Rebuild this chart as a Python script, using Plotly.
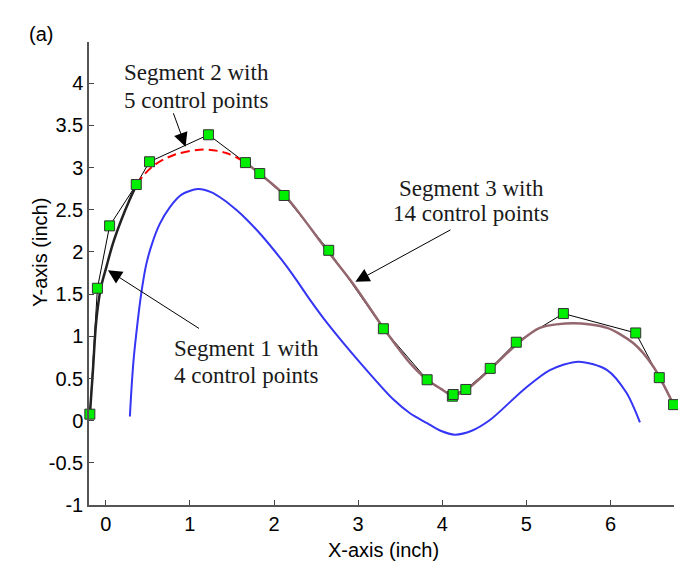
import plotly.graph_objects as go

# Control points (all segments, in order)
ctrl_x = [-0.19, -0.10, 0.045, 0.362, 0.52, 1.22, 1.66, 1.83, 2.12, 2.65, 3.30, 3.82, 4.12, 4.13, 4.28, 4.57, 4.88, 5.44, 6.30, 6.58, 6.75]
ctrl_y = [0.077, 1.57, 2.31, 2.80, 3.07, 3.39, 3.06, 2.93, 2.67, 2.02, 1.09, 0.485, 0.29, 0.31, 0.37, 0.62, 0.93, 1.27, 1.04, 0.51, 0.19]

# Segment 1 curve (black)
seg1_x = [-0.19, -0.153, -0.113, -0.06, 0.006, 0.084, 0.184, 0.283, 0.362]
seg1_y = [0.065, 0.60, 1.19, 1.57, 1.82, 2.10, 2.38, 2.62, 2.79]

# Segment 2 curve (red dashed)
seg2_x = [0.362, 0.55, 0.81, 1.165, 1.44, 1.66]
seg2_y = [2.80, 3.01, 3.15, 3.215, 3.17, 3.06]

# Segment 3 curve (mauve)
seg3_x = [1.66, 1.84, 2.13, 2.63, 2.95, 3.30, 3.62, 3.82, 3.98, 4.13, 4.29, 4.57, 4.89, 5.16, 5.56, 5.96, 6.27, 6.51, 6.75]
seg3_y = [3.06, 2.92, 2.67, 2.02, 1.61, 1.10, 0.68, 0.485, 0.38, 0.296, 0.37, 0.61, 0.91, 1.10, 1.156, 1.10, 0.92, 0.64, 0.19]

# Offset curve (blue)
blue_x = [0.286, 0.30, 0.33, 0.37, 0.42, 0.48, 0.55, 0.64, 0.76, 0.90, 1.094, 1.25, 1.40, 1.55, 1.68, 1.84, 2.08, 2.23, 2.43, 2.63, 3.03, 3.42, 3.62, 3.82, 3.98, 4.15, 4.35, 4.57, 4.97, 5.28, 5.62, 5.96, 6.19, 6.35]
blue_y = [0.05, 0.30, 0.72, 1.10, 1.50, 1.85, 2.10, 2.33, 2.53, 2.68, 2.746, 2.71, 2.62, 2.50, 2.38, 2.21, 1.92, 1.72, 1.43, 1.16, 0.68, 0.25, 0.085, -0.03, -0.12, -0.166, -0.12, 0.01, 0.37, 0.60, 0.70, 0.60, 0.33, -0.02]

x_ticks = [0, 1, 2, 3, 4, 5, 6]
y_ticks = [-1, -0.5, 0, 0.5, 1, 1.5, 2, 2.5, 3, 3.5, 4]

fig = go.Figure()
fig.add_trace(go.Scatter(x=blue_x, y=blue_y, mode="lines", line=dict(color="#3535f5", width=2, shape="spline", smoothing=0.8), hoverinfo="skip"))
fig.add_trace(go.Scatter(x=ctrl_x, y=ctrl_y, mode="lines", line=dict(color="black", width=1), hoverinfo="skip", cliponaxis=False))
fig.add_trace(go.Scatter(x=seg3_x, y=seg3_y, mode="lines", line=dict(color="#94676f", width=2.5, shape="spline", smoothing=0.8), hoverinfo="skip"))
fig.add_trace(go.Scatter(x=seg2_x, y=seg2_y, mode="lines", line=dict(color="#ff0000", width=2, dash="9px,5px", shape="spline"), hoverinfo="skip"))
fig.add_trace(go.Scatter(x=seg1_x, y=seg1_y, mode="lines", line=dict(color="#222222", width=2.5, shape="spline"), hoverinfo="skip"))
fig.add_trace(go.Scatter(x=ctrl_x, y=ctrl_y, mode="markers", cliponaxis=False,
                         marker=dict(symbol="square", size=10, color="#00ee00", line=dict(color="#333333", width=1)),
                         hoverinfo="skip"))

serif = dict(family="Liberation Serif", size=23, color="#1a1a1a")
# (text, x, y, xanchor)
texts = [
    ("Segment 2 with", 0.196, 4.126, "left"),
    ("5 control points", 0.196, 3.802, "left"),
    ("Segment 3 with", 4.344, 2.754, "center"),
    ("14 control points", 4.344, 2.458, "center"),
    ("Segment 1 with", 0.781, 0.856, "left"),
    ("4 control points", 0.781, 0.540, "left"),
]
annotations = []
for t, x, y, xa in texts:
    annotations.append(dict(text=t, x=x, y=y, xref="x", yref="y", xanchor=xa, yanchor="middle",
                            showarrow=False, font=serif))

arrows = [
    (0.948, 3.248, 0.797, 3.663),
    (2.967, 1.646, 4.115, 2.272),
    (0.025, 1.785, 1.126, 1.082),
]
for x, y, ax, ay in arrows:
    annotations.append(dict(text="", x=x, y=y, ax=ax, ay=ay, xref="x", yref="y", axref="x", ayref="y",
                            showarrow=True, arrowhead=2, arrowsize=2.8, arrowwidth=1, arrowcolor="black"))

sans = dict(family="Liberation Sans", size=20, color="black")
pw, ph = 585, 463
annotations.append(dict(text="(a)", x=(27 - 89) / pw, y=1 + (42 - 21) / ph, xref="paper", yref="paper",
                        showarrow=False, font=sans))
annotations.append(dict(text="X-axis (inch)", x=(383 - 89) / pw, xref="paper", y=1 - (550 - 42) / ph, yref="paper",
                        yanchor="middle", showarrow=False, font=sans))
annotations.append(dict(text="Y-axis (inch)", x=(27 - 89) / pw, xref="paper", y=1 - (253 - 42) / ph, yref="paper",
                        textangle=-90, showarrow=False, font=sans))

fig.update_layout(
    width=678, height=569,
    margin=dict(l=89, r=4, t=42, b=64),
    paper_bgcolor="white", plot_bgcolor="white",
    showlegend=False,
    annotations=annotations,
    xaxis=dict(range=[-0.2, 6.755], tickvals=x_ticks, ticktext=[str(v) for v in x_ticks],
               ticks="inside", ticklen=5, tickcolor="#444", showline=True, linecolor="#555", linewidth=1.5,
               showgrid=False, zeroline=False, tickfont=sans, mirror=False),
    yaxis=dict(range=[-1, 4.49], tickvals=y_ticks, ticktext=[("%g" % v) for v in y_ticks],
               ticks="inside", ticklen=5, tickcolor="#444", showline=True, linecolor="#555", linewidth=1.5,
               showgrid=False, zeroline=False, tickfont=sans, mirror=False),
)
fig.write_html("out.html")
